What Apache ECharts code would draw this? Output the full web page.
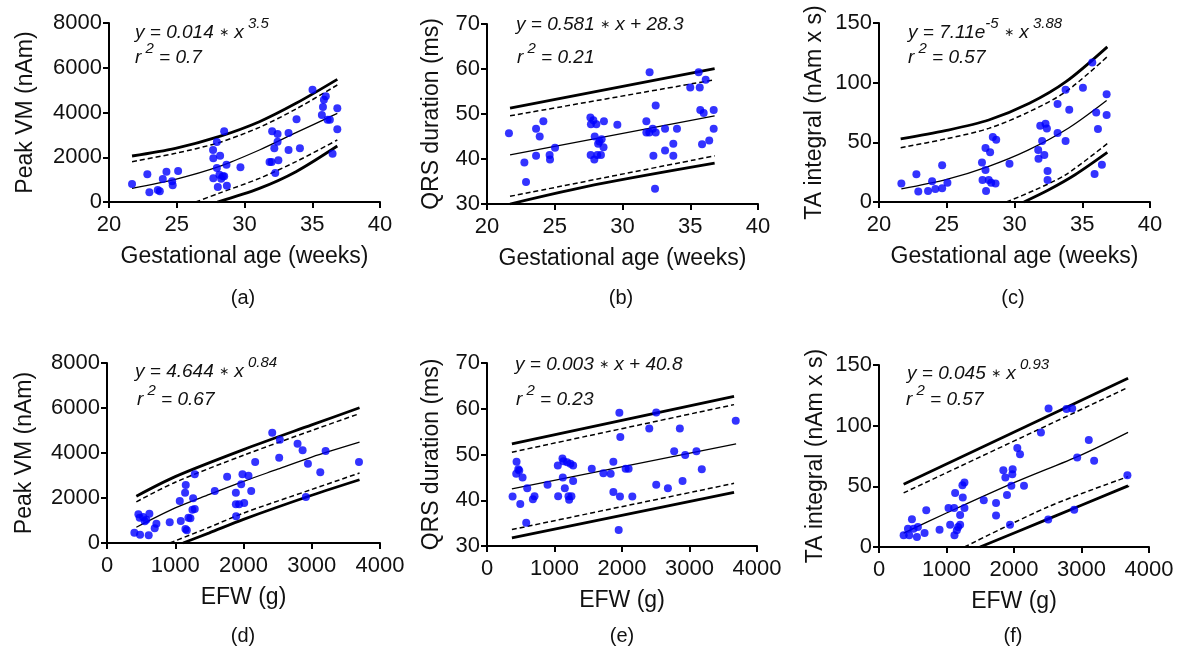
<!DOCTYPE html>
<html><head><meta charset="utf-8">
<script src="https://cdn.jsdelivr.net/npm/echarts@6/dist/echarts.min.js"></script>
<style>html,body{margin:0;padding:0;background:#fff}#c{width:1187px;height:657px}</style>
</head><body><div id="c"></div>
<script>
// ---------- Panel (a): Peak VM vs gestational age ----------
const aPts = [[21.7,805],[22.83,1237],[22.98,432],[23.6,537],[23.75,480],[23.97,1028],[24.24,1356],[24.66,924],[24.7,745],[25.1,1386],
 [27.68,2325],[27.7,1952],[27.7,1058],[27.96,2683],[27.96,1520],[28.03,670],[28.2,2071],[28.15,1222],[28.28,1043],[28.4,1147],[28.5,1147],
 [28.5,3160],[28.67,1669],[28.7,730],[29.7,1550],[32.04,3160],[31.85,1788],[32.0,1788],[32.2,2400],[32.27,1297],[32.44,3040],[32.44,2697],
 [32.5,1862],[33.25,3085],[33.25,2325],[33.84,3696],[34.09,2400],[35.02,5022],[35.71,3890],[35.79,4247],[35.86,4575],[36.0,4724],
 [36.13,3681],[36.3,3681],[36.5,2161],[36.85,4188],[36.85,3249]];
const aFit = [[21.7,611],[24.9,1013],[28.1,1579],[31.1,2324],[33.8,3098],[36.85,3963]];
const aUp = [[21.7,2056],[24.9,2398],[28.1,2920],[31.1,3590],[33.8,4410],[36.85,5482]];
const aUpDash = [[21.7,1803],[24.9,2175],[28.1,2652],[31.1,3337],[33.8,4156],[36.85,5229]];
const aLoDash = [[26.4,0],[28.1,387],[31.1,1058],[33.8,1803],[36.85,2771]];
const aLo = [[28.0,0],[31.1,611],[33.8,1356],[36.85,2503]];

// ---------- Panel (b): QRS duration vs gestational age ----------
const bPts = [[21.62,45.7],[22.76,39.2],[22.88,34.9],[23.62,46.7],[23.62,40.7],[23.89,45.0],[24.16,48.4],[24.62,40.9],[24.65,39.9],[25.02,42.5],
 [27.63,49.2],[27.67,47.7],[27.65,40.9],[27.85,48.6],[27.92,39.9],[27.95,45.0],[28.07,47.7],[28.14,40.9],[28.2,43.4],[28.3,43.9],[28.41,40.9],
 [28.46,44.4],[28.6,42.6],[28.63,48.4],[29.62,47.6],[32.0,59.3],[31.76,48.4],[31.76,45.9],[31.98,45.9],[32.23,46.7],[32.28,40.7],[32.45,51.9],
 [32.45,45.9],[32.4,33.4],[33.14,46.7],[33.14,41.9],[33.75,43.4],[33.75,40.7],[34.02,46.7],[35.0,55.9],[35.62,59.3],[35.7,55.9],[35.74,50.9],
 [35.87,43.3],[35.99,50.2],[36.14,57.6],[36.4,44.1],[36.73,50.9],[36.73,46.7]];
const bFit = [[21.7,40.9],[36.8,49.6]];
const bUp = [[21.7,51.3],[36.8,60.1]];
const bUpDash = [[21.7,49.6],[36.8,57.6]];
const bLoDash = [[21.7,31.7],[36.8,40.7]];
const bLo = [[21.7,30],[28,34.3],[36.8,39.1]];

// ---------- Panel (c): TA integral vs gestational age ----------
const cPts = [[21.65,15.4],[22.76,23.2],[22.9,8.9],[23.62,9.2],[23.92,17.3],[24.16,10.9],[24.66,30.7],[24.66,11.5],[25.05,16.2],
 [27.6,33.0],[27.64,18.4],[27.86,45.3],[27.86,26.8],[27.9,9.2],[28.1,18.4],[28.2,41.6],[28.28,16.2],[28.4,54.5],[28.6,15.4],[28.65,52.2],
 [29.63,32.1],[31.75,43.6],[31.77,36.3],[31.9,64],[32.04,51.1],[32.2,39.4],[32.29,65.6],[32.39,61.5],[32.44,26],[32.44,18.4],[33.18,82.1],
 [33.18,57.8],[33.77,94.1],[33.77,51.1],[34.04,77.4],[35.05,95.8],[35.74,116.8],[35.91,23.5],[36.03,75.1],[36.16,61.2],[36.45,31.3],
 [36.8,90.2],[36.8,72.9]];
const cFit = [[21.65,11],[25,19],[28,29.5],[31,43.5],[34,62],[36.8,85]];
const cUp = [[21.6,52.8],[24.9,59.8],[28.1,68.7],[31.1,82.7],[33.8,100.8],[36.85,130]];
const cUpDash = [[21.6,45.5],[24.9,52.8],[28.1,61.7],[31.1,75.7],[33.8,92.5],[36.85,121.8]];
const cLoDash = [[29.4,0],[31.5,10],[33.8,23],[36.85,49]];
const cLo = [[30.7,0],[32.5,10],[34.5,23],[36.85,41.5]];

// ---------- Panel (d): Peak VM vs EFW ----------
const dPts = [[401,459],[460,1274],[484,370],[479,1126],[528,1155],[553,963],[577,1037],[611,341],[621,1303],[699,652],[724,859],
 [919,918],[1066,1866],[1081,978],[1154,2577],[1144,2236],[1149,622],[1169,563],[1193,1126],[1222,1096],[1252,1481],[1262,1985],
 [1286,1511],[1286,3051],[1579,2310],[1760,2947],[1888,2236],[1888,1718],[1892,1185],[1936,1718],[1966,2607],[1985,3051],[2010,1777],
 [2073,2992],[2113,2310],[2171,3599],[2421,4902],[2523,3791],[2533,4591],[2792,4413],[2866,4117],[2944,3525],[2914,2044],[3125,3140],
 [3203,4088],[3692,3599]];
const dFit = [[430,700],[1000,1560],[1500,2160],[2000,2740],[2500,3280],[3000,3820],[3700,4480]];
const dUp = [[430,2080],[1000,2950],[2000,4150],[3000,5250],[3700,6010]];
const dUpDash = [[430,1830],[1000,2700],[2000,3900],[3000,5000],[3700,5750]];
const dLoDash = [[920,0],[1500,700],[2000,1330],[3000,2380],[3700,3110]];
const dLo = [[1115,0],[1500,450],[2000,1050],[3000,2120],[3700,2810]];

// ---------- Panel (e): QRS duration vs EFW ----------
const ePts = [[379,40.8],[438,48.4],[433,45.8],[463,46.8],[478,46.5],[493,39.2],[527,45.0],[581,35.1],[596,42.6],[680,40.2],[704,40.9],
 [897,43.4],[1049,47.6],[1054,40.9],[1118,49.1],[1133,48.5],[1123,45.0],[1153,42.6],[1187,48.3],[1207,40.9],[1217,40.1],[1236,48.0],
 [1251,40.9],[1276,44.2],[1276,47.6],[1552,46.9],[1724,45.9],[1832,45.8],[1872,48.4],[1872,41.8],[1961,59.1],[1975,53.8],[1970,40.8],
 [2054,46.9],[2098,46.9],[2153,40.8],[2404,55.7],[2507,59.2],[2507,43.4],[2680,42.6],[2773,50.7],[2857,55.7],[2897,44.2],[2936,49.9],
 [3103,50.7],[3182,46.8],[3685,57.4],[1951,33.5]];
const eFit = [[369,42.5],[3690,52.3]];
const eUp = [[369,52.3],[3660,62.7]];
const eUpDash = [[369,50.5],[3660,60.9]];
const eLoDash = [[369,33.6],[3660,43.7]];
const eLo = [[369,31.8],[3660,41.7]];

// ---------- Panel (f): TA integral vs EFW ----------
const fPts = [[365,9.6],[429,15.1],[448,9.6],[488,22.8],[512,15.1],[562,8.3],[576,16.5],[675,11.6],[700,30.3],[897,14.3],[1030,32.2],
 [1054,18.4],[1118,9.6],[1128,44.6],[1113,32.2],[1153,13.8],[1172,16.5],[1202,18.4],[1202,26.4],[1241,40.7],[1236,50.9],[1266,53.1],
 [1266,32.2],[1552,38.5],[1734,36.3],[1734,25.9],[1842,63.3],[1872,57.2],[1896,42.9],[1941,18.4],[1980,64.1],[1975,60],[1961,50.4],
 [2049,81.5],[2089,76.5],[2148,50.4],[2399,94.4],[2507,22.6],[2512,114.2],[2778,113.7],[2862,114.2],[2892,30.8],[2936,73.8],
 [3108,88.1],[3187,71.0],[3680,59.2]];
const fFit = [[365,11.5],[1000,28],[2000,53],[3000,76],[3690,94.5]];
const fUp = [[365,51.7],[3690,139]];
const fUpDash = [[365,44.6],[3690,131.5]];
const fLoDash = [[1266,0],[2500,33],[3690,58]];
const fLo = [[1497,0],[2500,23],[3690,50.4]];

// ---------- Axis ranges, names and texts ----------
const xGA = {min:20, max:40, interval:5, name:'Gestational age (weeks)'};
const xEFW = {min:0, max:4000, interval:1000, name:'EFW (g)'};
const yVM = {min:0, max:8000, interval:2000, name:'Peak VM (nAm)'};
const yQRS = {min:30, max:70, interval:10, name:'QRS duration (ms)'};
const yTA = {min:0, max:150, interval:50, name:'TA integral (nAm x s)'};
const eqLine1 = [
  '{m|y = 0.014 }{a|∗}{m| x}{s| 3.5}',
  '{m|y = 0.581 }{a|∗}{m| x + 28.3}',
  '{m|y = 7.11e}{s|-5}{m| }{a|∗}{m| x}{s| 3.88}',
  '{m|y = 4.644 }{a|∗}{m| x}{s| 0.84}',
  '{m|y = 0.003 }{a|∗}{m| x + 40.8}',
  '{m|y = 0.045 }{a|∗}{m| x}{s| 0.93}'
];
const eqLine2 = ['0.7','0.21','0.57','0.67','0.23','0.57'];
const panelLetters = ['(a)','(b)','(c)','(d)','(e)','(f)'];

// ---------- Layout ----------
const FONT = "'Liberation Sans', Arial, sans-serif";
const grids = [
  {left:109, top:23, width:271, height:179},
  {left:487, top:24, width:271, height:180},
  {left:879, top:23, width:271, height:179},
  {left:107, top:363, width:273, height:180},
  {left:487, top:363, width:270, height:183},
  {left:879, top:365, width:270, height:182}
];
const panels = [
  {x:xGA, y:yVM, pts:aPts, lines:[aFit,aUp,aUpDash,aLoDash,aLo], yGap:72},
  {x:xGA, y:yQRS, pts:bPts, lines:[bFit,bUp,bUpDash,bLoDash,bLo], yGap:44},
  {x:xGA, y:yTA, pts:cPts, lines:[cFit,cUp,cUpDash,cLoDash,cLo], yGap:53},
  {x:xEFW, y:yVM, pts:dPts, lines:[dFit,dUp,dUpDash,dLoDash,dLo], yGap:71},
  {x:xEFW, y:yQRS, pts:ePts, lines:[eFit,eUp,eUpDash,eLoDash,eLo], yGap:44},
  {x:xEFW, y:yTA, pts:fPts, lines:[fFit,fUp,fUpDash,fLoDash,fLo], yGap:52}
];
const eqPos = [
  {x:135, y1:16, x2:135, y2:41},
  {x:516, y1:15, x2:517, y2:41},
  {x:908, y1:16, x2:908, y2:41.5},
  {x:135, y1:355, x2:137, y2:383},
  {x:515, y1:355, x2:516, y2:383},
  {x:907, y1:357, x2:906, y2:383}
];
const letterPos = [[243,298],[621,298],[1013,298],[243,636],[622,636],[1013,636]];

const axisCommon = {
  type:'value', nameLocation:'middle',
  nameTextStyle:{fontSize:23, color:'#111', fontFamily:FONT},
  axisLine:{onZero:false, lineStyle:{color:'#000', width:2}},
  axisTick:{show:true, length:6, lineStyle:{color:'#000', width:2}},
  axisLabel:{fontSize:22, color:'#111', fontFamily:FONT, formatter:(v) => String(v)},
  splitLine:{show:false}
};

const xAxes = [], yAxes = [], series = [], graphic = [];
const lineKinds = [
  {width:1.3, type:'solid'},
  {width:2.8, type:'solid'},
  {width:1.5, type:[5,3]},
  {width:1.5, type:[5,3]},
  {width:2.8, type:'solid'}
];
const rich = {
  m:{fontSize:19, fontStyle:'italic', fontFamily:FONT, fill:'#111', lineHeight:26, verticalAlign:'bottom'},
  a:{fontSize:12, fontFamily:"'DejaVu Sans', sans-serif", fill:'#111', lineHeight:26, verticalAlign:'bottom', padding:[0,0,3,0]},
  s:{fontSize:15, fontStyle:'italic', fontFamily:FONT, fill:'#111', lineHeight:26, verticalAlign:'top'}
};
panels.forEach((p, i) => {
  xAxes.push(Object.assign({}, axisCommon, {gridIndex:i, min:p.x.min, max:p.x.max, interval:p.x.interval, name:p.x.name, nameGap:43,
    axisLabel:Object.assign({}, axisCommon.axisLabel, {margin:12})}));
  yAxes.push(Object.assign({}, axisCommon, {gridIndex:i, min:p.y.min, max:p.y.max, interval:p.y.interval, name:p.y.name, nameGap:p.yGap,
    axisLabel:Object.assign({}, axisCommon.axisLabel, {margin:7})}));
  p.lines.forEach((d, k) => {
    series.push({type:'line', xAxisIndex:i, yAxisIndex:i, data:d, symbol:'none', smooth:0.3,
      silent:true, z:2, lineStyle:{color:'#000', width:lineKinds[k].width, type:lineKinds[k].type}});
  });
  series.push({type:'scatter', xAxisIndex:i, yAxisIndex:i, data:p.pts, symbol:'circle', symbolSize:8,
    itemStyle:{color:'#0000ff'}, z:3, silent:true});
  const e = eqPos[i];
  graphic.push({type:'text', left:e.x, top:e.y1, z:10, style:{text:eqLine1[i], rich:rich, fill:'#111'}});
  graphic.push({type:'text', left:e.x2, top:e.y2, z:10, style:{text:'{m|r}{s| 2}{m| = ' + eqLine2[i] + '}', rich:rich, fill:'#111'}});
  graphic.push({type:'text', x:letterPos[i][0], y:letterPos[i][1], z:10,
    style:{text:panelLetters[i], fontSize:20, fontFamily:FONT, fill:'#111', align:'center', verticalAlign:'middle'}});
});

const chart = echarts.init(document.getElementById('c'), null, {renderer:'canvas'});
chart.setOption({
  animation:false,
  backgroundColor:'#fff',
  grid:grids.map(g => Object.assign({containLabel:false}, g)),
  xAxis:xAxes, yAxis:yAxes, series:series, graphic:graphic
});
</script>
</body></html>
